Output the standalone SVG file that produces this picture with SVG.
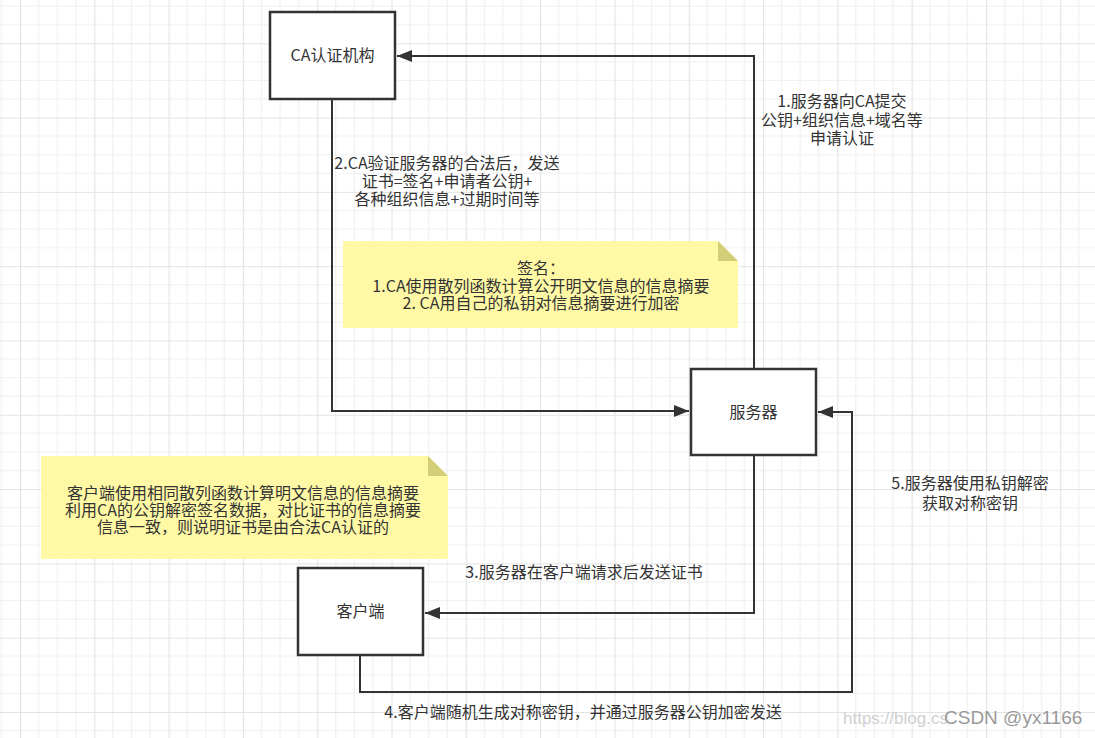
<svg xmlns="http://www.w3.org/2000/svg" width="1095" height="738" viewBox="0 0 1095 738">
<defs>
<pattern id="grid" patternUnits="userSpaceOnUse" x="20" y="43.3" width="74.3" height="74.3">
<path d="M18.575 0V74.3M37.15 0V74.3M55.725 0V74.3M0 18.575H74.3M0 37.15H74.3M0 55.725H74.3" stroke="#f0f0f0" stroke-width="1.2" fill="none"/>
<path d="M0.5 0V74.3M0 0.5H74.3" stroke="#e3e3e3" stroke-width="1.2" fill="none"/>
</pattern>
<marker id="arr" markerUnits="userSpaceOnUse" markerWidth="16" markerHeight="12" refX="15" refY="6" orient="auto">
<path d="M0 0L15 6L0 12Z" fill="#333"/>
</marker>
</defs>
<style>
.box{fill:#fff;stroke:#333;stroke-width:2.5}
.note{fill:#fff9a6}
.fold{fill:#d2cf78}
.t{font-family:"Microsoft YaHei","Noto Sans CJK SC","Noto Sans",sans-serif;font-size:16px;fill:#333;text-anchor:middle}
.c{fill:none;stroke:#333;stroke-width:2}
</style>
<rect width="1095" height="738" fill="#fff"/>
<rect width="1095" height="738" fill="url(#grid)"/>
<g id="connectors">
<path class="c" d="M754 369V56H397" marker-end="url(#arr)"/>
<path class="c" d="M332 99V411H689" marker-end="url(#arr)"/>
<path class="c" d="M754 455V613H425" marker-end="url(#arr)"/>
<path class="c" d="M360 655V692H852V412H818" marker-end="url(#arr)"/>
</g>
<g id="labels">
<text class="t" x="842" y="107">1.服务器向CA提交</text>
<text class="t" x="842" y="126">公钥+组织信息+域名等</text>
<text class="t" x="842" y="144">申请认证</text>
<text class="t" x="447" y="169">2.CA验证服务器的合法后，发送</text>
<text class="t" x="447" y="187">证书=签名+申请者公钥+</text>
<text class="t" x="447" y="205">各种组织信息+过期时间等</text>
<text class="t" x="584" y="578">3.服务器在客户端请求后发送证书</text>
<text class="t" x="970" y="489">5.服务器使用私钥解密</text>
<text class="t" x="970" y="509">获取对称密钥</text>
<text class="t" x="583" y="718">4.客户端随机生成对称密钥，并通过服务器公钥加密发送</text>
</g>
<g id="ca">
<rect class="box" x="270" y="12" width="125" height="87"/>
<text class="t" x="332.5" y="61">CA认证机构</text>
</g>
<g id="server">
<rect class="box" x="691" y="369" width="125" height="86"/>
<text class="t" x="753.5" y="418">服务器</text>
</g>
<g id="client">
<rect class="box" x="298" y="568" width="125" height="87"/>
<text class="t" x="360.5" y="617">客户端</text>
</g>
<g id="note-sign">
<path class="note" d="M343 241H718L738 261V328H343Z"/>
<path class="fold" d="M718 241L738 261H718Z"/>
<text class="t" x="541" y="274">签名：</text>
<text class="t" x="541" y="292">1.CA使用散列函数计算公开明文信息的信息摘要</text>
<text class="t" x="541" y="309">2. CA用自己的私钥对信息摘要进行加密</text>
</g>
<g id="note-verify">
<path class="note" d="M41 456H428L448 476V559H41Z"/>
<path class="fold" d="M428 456L448 476H428Z"/>
<text class="t" x="243" y="499">客户端使用相同散列函数计算明文信息的信息摘要</text>
<text class="t" x="243" y="516">利用CA的公钥解密签名数据，对比证书的信息摘要</text>
<text class="t" x="243" y="533">信息一致，则说明证书是由合法CA认证的</text>
</g>
<g id="watermark">
<text x="843" y="724" font-family="Liberation Sans, sans-serif" font-size="17" fill="#d0d0d0">https://blog.cs</text>
<text x="944" y="724" font-family="Liberation Sans, sans-serif" font-size="19" fill="#999" stroke="#fff" stroke-width="0.6" paint-order="stroke">CSDN @yx1166</text>
</g>
</svg>
